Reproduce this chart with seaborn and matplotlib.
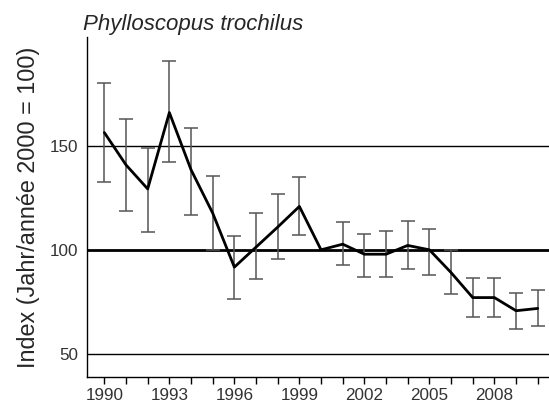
import matplotlib
matplotlib.use("Agg")
import matplotlib.pyplot as plt
import seaborn as sns
import pandas as pd
import numpy as np

years = list(range(1990, 2011))
index_values = [156.2, 140.7, 129.2, 165.8, 138.4, 117.6, 91.7, 101.3, 110.9, 120.8,
                100.0, 102.7, 97.9, 97.9, 102.1, 100.0, 89.1, 77.1, 77.1, 70.8, 71.9]
ci_upper = [180.2, 162.5, 149.0, 190.7, 158.3, 135.6, 106.4, 117.6, 126.7, 135.1,
            100.0, 113.1, 107.8, 109.1, 114.0, 109.9, 99.7, 86.3, 86.3, 79.2, 80.8]
ci_lower = [132.5, 118.4, 108.5, 142.3, 116.9, 99.7, 76.4, 86.0, 95.7, 107.0,
            100.0, 92.5, 87.2, 87.2, 90.9, 87.7, 78.9, 68.0, 68.0, 62.1, 63.4]
ytick_values = [50, 100, 150]

sns.set_style("white")
plt.rcParams["font.family"] = ["Liberation Sans", "DejaVu Sans"]

df = pd.DataFrame({"year": years, "index": index_values,
                   "upper": ci_upper, "lower": ci_lower})

fig = plt.figure(figsize=(5.49, 4.05), dpi=100)
ax = fig.add_axes([0.1585, 0.069, 0.8415, 0.8395])

# gridlines
for v in ytick_values:
    ax.axhline(v, color="black", lw=2.0 if v == 100 else 1.0, zorder=1)

# error bars (skip reference year)
mask = df["year"] != 2000
sub = df[mask]
ax.errorbar(sub["year"], sub["index"],
            yerr=[sub["index"] - sub["lower"], sub["upper"] - sub["index"]],
            fmt="none", ecolor="#555555", elinewidth=1.1, capsize=5, capthick=1.1, zorder=2)

sns.lineplot(data=df, x="year", y="index", ax=ax, color="black", lw=2.0, zorder=3)

ax.set_xlim(1989.2, 2010.52)
ax.set_ylim(39, 202)
ax.set_xticks(years)
ax.set_xticklabels([str(y) if (y - 1990) % 3 == 0 else "" for y in years])
ax.set_yticks(ytick_values)
ax.tick_params(axis="x", direction="out", length=5, width=1, color="black",
               labelsize=12.3, pad=3, bottom=True)
ax.tick_params(axis="y", length=0, labelsize=12.3, pad=6)
for lab in ax.get_yticklabels() + ax.get_xticklabels():
    lab.set_color("#333333")

for s in ["top", "right"]:
    ax.spines[s].set_visible(False)
for s in ["left", "bottom"]:
    ax.spines[s].set_color("black")
    ax.spines[s].set_linewidth(1.0)

ax.set_xlabel("")
ax.set_ylabel("Index (Jahr/année 2000 = 100)", fontsize=16.8, labelpad=7)
ax.set_title("Phylloscopus trochilus", fontsize=16, style="italic", loc="left", pad=5,
             x=-0.009)

fig.savefig("out.png", dpi=100)
